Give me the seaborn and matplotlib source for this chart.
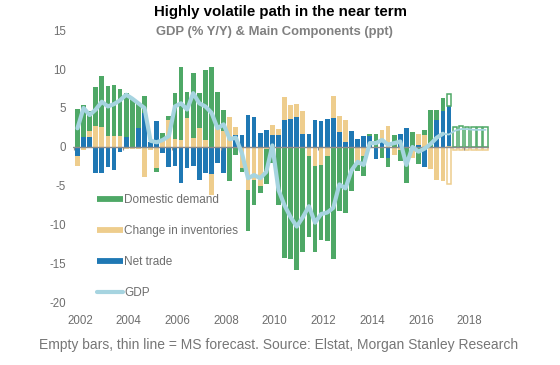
import numpy as np
import pandas as pd
import matplotlib
matplotlib.use("Agg")
import matplotlib.pyplot as plt
import seaborn as sns
from matplotlib.lines import Line2D

# quarterly data, 2002Q1 - 2018Q4
years = list(range(2002, 2019))
quarters = [f"{y}Q{q}" for y in years for q in range(1, 5)]

domestic_demand = [
    4.9, 4.1, 2.6, 5.0,   6.5, 6.4, 6.6, 6.0,   5.6, 6.1, 3.2, 2.2,
    0.0, -0.5, 0.9, 0.6,  5.9, 9.4, 3.4, 8.3,   4.5, 9.0, 10.3, 4.5,
    2.7, -4.4, -1.0, -0.5, -5.3, -3.2, -0.9, -4.5, -2.0, -7.4, -14.2, -14.4,
    -15.8, -13.5, -10.3, -10.9, -9.6, -10.9, -14.4, -8.2, -8.5, -5.7, -0.8, -2.6,
    0.3, 1.7, -1.4, -1.2, 1.5, -1.4, -4.6, 1.9,  -2.2, 0.6, 4.7, 1.2,
    1.7, 1.6, 2.6, 2.7,   2.6, 2.6, 2.5, 2.5,
]
inventories = [
    -1.2, -0.4, 0.7, 2.7,  2.6, 1.4, 1.4, 1.4,  -0.3, -0.2, -0.2, -3.8,
    -0.4, -2.7, 0.9, 3.4,  1.0, 0.9, 3.7, 1.2,  2.4, 0.9, -2.7, 2.6,
    2.1, 3.8, 1.0, -2.7,  -5.5, -4.2, -5.0, -0.3,  1.2, 0.7, 2.9, 1.8,
    1.7, 2.9, -1.2, -2.5,  -2.3, -1.2, 2.8, 2.1,  2.7, 0.0, -2.3, -1.1,
    0.0, 0.0, 1.3, 2.7,  -1.0, -0.4, 0.0, -1.4,  1.4, 1.6, -2.8, -4.2,
    -4.4, -4.8, -0.4, -0.4,  -0.4, -0.4, -0.4, -0.4,
]
net_trade = [
    -1.2, 1.3, 1.3, -3.3,  -3.3, -2.6, -2.9, -0.6,  1.3, 0.0, 2.4, 4.3,
    0.7, 3.3, -0.8, -2.6,  -2.5, -4.6, -2.7, -2.5,  -4.2, -3.3, -3.5, -2.0,
    -3.3, 0.0, 1.6, 1.6,  4.1, 3.9, 1.8, 2.2,  1.6, 1.6, 3.5, 3.6,
    3.8, 1.7, 1.7, 3.5,  3.3, 3.6, 3.7, 1.9,  0.7, 2.0, 1.0, 1.4,
    1.4, -1.5, 0.9, -1.4,  0.0, 1.7, 2.4, 0.0,  0.3, -2.6, 0.0, 3.5,
    4.6, 5.2, 0.0, 0.0,  0.0, 0.0, 0.0, 0.0,
]
gdp = [
    2.4, 5.0, 4.1, 4.8,  5.8, 5.2, 5.5, 6.0,  6.7, 6.2, 5.6, 5.0,
    0.8, 0.6, 0.9, 1.4,  5.2, 5.6, 4.8, 6.9,  5.6, 5.2, 4.4, 2.4,
    2.9, 1.0, 1.2, -0.8,  -4.0, -3.6, -4.0, -3.2,  0.2, -5.5, -7.5, -9.0,
    -10.2, -9.0, -7.6, -9.7,  -8.6, -8.4, -7.8, -4.8,  -5.3, -3.0, -1.9, -2.3,
    0.5, 0.5, 0.9, 0.3,  0.5, 0.7, -2.3, 0.0,  -0.6, -0.2, 0.4, 1.2,
    1.7, 1.6, 2.1, 2.3,  2.3, 2.2, 2.2, 2.2,
]

# first forecast quarter (empty bars / thin line)
first_forecast = {"Domestic demand": 61, "Change in inventories": 61, "Net trade": 62}
gdp_last_actual = 60

colors = {
    "Domestic demand": "#4ea866",
    "Change in inventories": "#eecd8d",
    "Net trade": "#1f78b4",
    "GDP": "#a6d4e0",
}
grey = "#6e6e6e"

sns.set_style("white")
plt.rcParams["font.family"] = ["Liberation Sans", "DejaVu Sans"]
plt.rcParams["axes.unicode_minus"] = False

fig = plt.figure(figsize=(5.6, 3.65), dpi=100)
ax = fig.add_axes([0.1307, 0.1699, 0.8736 - 0.1307, 0.9178 - 0.1699])

idx = np.arange(len(quarters))
pos_base = np.zeros(len(idx))
neg_base = np.zeros(len(idx))

# stacking order from the zero line outwards: net trade, inventories, domestic demand
series = [("Net trade", net_trade), ("Change in inventories", inventories),
          ("Domestic demand", domestic_demand)]
for nome, valores in series:
    v = np.array(valores, dtype=float)
    base = np.where(v >= 0, pos_base, neg_base)
    real = (idx < first_forecast[nome]) & (v != 0)
    prev = (idx >= first_forecast[nome]) & (v != 0)
    ax.bar(idx[real], v[real], bottom=base[real], width=0.78,
           color=colors[nome], linewidth=0, zorder=2)
    ax.bar(idx[prev], v[prev], bottom=base[prev], width=0.72,
           facecolor="white", edgecolor=colors[nome], linewidth=1.1, zorder=2)
    pos_base += np.where(v > 0, v, 0)
    neg_base += np.where(v < 0, v, 0)

df_gdp = pd.DataFrame({"x": idx, "gdp": gdp})
sns.lineplot(data=df_gdp[df_gdp.x <= gdp_last_actual], x="x", y="gdp", ax=ax,
             color=colors["GDP"], linewidth=3.0, zorder=4)
sns.lineplot(data=df_gdp[df_gdp.x >= gdp_last_actual], x="x", y="gdp", ax=ax,
             color=colors["GDP"], linewidth=1.3, zorder=4)

# zero line with small ticks every two years
ax.axhline(0, color="#8c8c8c", linewidth=1.0, zorder=3)
ax.vlines(np.arange(-0.5, len(idx), 8), -0.4, 0, color="#8c8c8c", linewidth=0.8, zorder=3)

ax.set_xlim(-0.7, 67.6)
ax.set_ylim(-20, 15)
ax.set_yticks(range(-20, 16, 5))
ax.set_xticks(np.arange(0, len(idx), 8) + 0.4)
ax.set_xticklabels([str(y) for y in years[::2]])
ax.tick_params(axis="both", length=0, labelsize=8.3, labelcolor=grey)
ax.tick_params(axis="x", pad=9)
ax.tick_params(axis="y", pad=5)
ax.set_xlabel("")
ax.set_ylabel("")
for s in ax.spines.values():
    s.set_visible(False)

handles = [Line2D([], [], color=colors[k], linewidth=4.2, solid_capstyle="butt")
           for k in ["Domestic demand", "Change in inventories", "Net trade"]]
handles.append(Line2D([], [], color=colors["GDP"], linewidth=3.0, solid_capstyle="round"))
fig.legend(handles, ["Domestic demand", "Change in inventories", "Net trade", "GDP"],
           loc="upper left", bbox_to_anchor=(97 / 560, 1 - 194 / 365),
           frameon=False, fontsize=8.5, labelcolor=grey, handlelength=2.2,
           handletextpad=0.1, labelspacing=1.62, borderpad=0, borderaxespad=0)

fig.text(0.5, 1 - 12 / 365, "Highly volatile path in the near term",
         ha="center", va="center", fontsize=10.8, fontweight="bold", color="black")
fig.text(0.49, 1 - 32 / 365, "GDP (% Y/Y) & Main Components (ppt)",
         ha="center", va="center", fontsize=9.4, fontweight="bold", color="#808080")
fig.text(0.497, 1 - 345 / 365,
         "Empty bars, thin line = MS forecast. Source: Elstat, Morgan Stanley Research",
         ha="center", va="center", fontsize=10.0, color="#767676")

fig.savefig("out.png", dpi=100)
